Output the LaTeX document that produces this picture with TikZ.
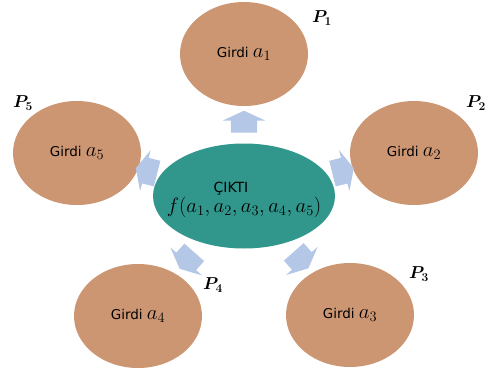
\documentclass[tikz,border=0pt]{standalone}
\usepackage{fontspec}
\setsansfont{DejaVu Sans}
\usetikzlibrary{shapes.geometric,shapes.arrows}
\definecolor{girdibrown}{RGB}{205,150,115}
\definecolor{ciktiteal}{RGB}{49,150,140}
\definecolor{okblue}{RGB}{180,199,231}
\tikzset{
  girdi/.style={ellipse, fill=girdibrown, minimum width=128pt, minimum height=104pt,
    inner sep=0pt, font=\sffamily\fontsize{13.5}{15}\selectfont},
  cikti/.style={ellipse, fill=ciktiteal, minimum width=182pt, minimum height=105pt,
    inner sep=0pt, font=\sffamily\fontsize{14}{20}\selectfont},
  okbox/.style={single arrow, fill=okblue, minimum height=22pt, inner xsep=0pt,
    inner ysep=0pt, text height=13pt, text depth=13pt,
    single arrow head extend=8pt, single arrow tip angle=130},
  plabel/.style={font=\fontsize{17.28}{20}\selectfont}
}
\newcommand{\ma}[1]{{\fontsize{20}{22}\selectfont$a_{#1}$}}
\newcommand{\pl}[1]{{\boldmath$P_{#1}$}}
\begin{document}
\begin{tikzpicture}[x=1pt,y=-1pt]
\useasboundingbox (0,0) rectangle (485,372);
% outer ellipses
\node[girdi] (p1) at (244,54) {Girdi \ma{1}};
\node[girdi] (p2) at (414,153) {Girdi \ma{2}};
\node[girdi] (p3) at (350,315) {Girdi \ma{3}};
\node[girdi] (p4) at (138,316) {Girdi \ma{4}};
\node[girdi] (p5) at (77,153) {Girdi \ma{5}};
% output
\node[cikti] (c) at (244,196) {\makebox[0pt]{\raisebox{-6pt}[0pt][0pt]{\begin{tabular}{@{}c@{}}
  \hspace*{-26pt}ÇIKTI\\[-2pt]
  {\fontsize{20.74}{22}\selectfont$f(a_1,a_2,a_3,a_4,a_5)$}\end{tabular}}}};
% block arrows
\foreach \pn in {p1,p2,p3,p4,p5}{
  \path (c) -- (\pn) node[okbox, sloped, allow upside down, pos=0.5] {};
}
% labels
\node[plabel] (l1) at (322,18) {\pl{1}};
\node[plabel] (l2) at (476,103) {\pl{2}};
\node[plabel] (l3) at (419,274) {\pl{3}};
\node[plabel] (l4) at (213,285) {\pl{4}};
\node[plabel] (l5) at (23,103) {\pl{5}};
\end{tikzpicture}
\end{document}
